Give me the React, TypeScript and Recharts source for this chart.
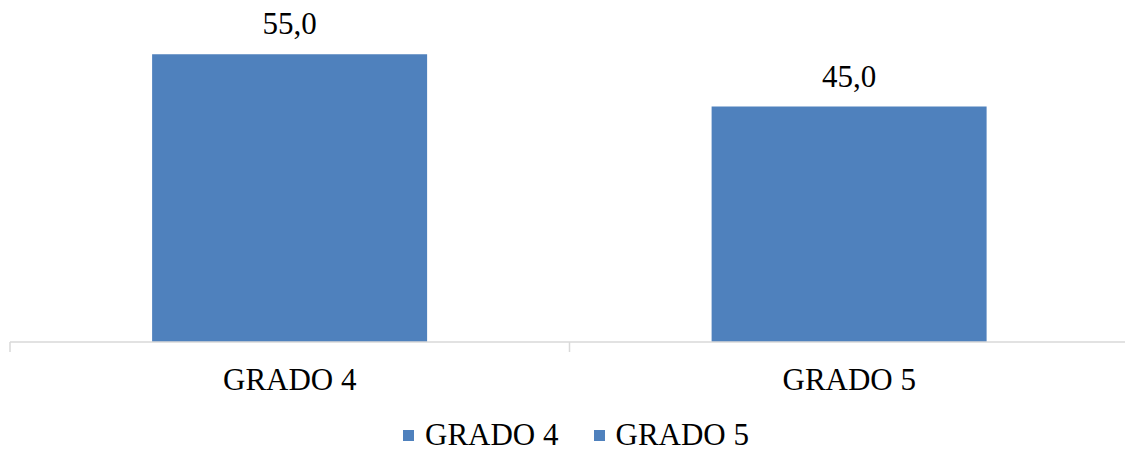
import React from 'react';
import { BarChart, Bar, XAxis, YAxis, Legend, LabelList } from 'recharts';

const categories = ['GRADO 4', 'GRADO 5'];
const values = [55.0, 45.0];
const legendLabels = ['GRADO 4', 'GRADO 5'];

const BAR_COLOR = '#4F81BD';
const AXIS_COLOR = '#D9D9D9';
const FONT = '"Liberation Serif", "Times New Roman", serif';
const TICK_MARGIN = 26;
const TICK_LEN = 10;

if (typeof document !== 'undefined') {
  document.body.style.margin = '0';
}

const data = categories.map((c, i) => ({ name: c, value: values[i] }));

const fmt = (v: any) => Number(v).toFixed(1).replace('.', ',');

const CategoryTick = (props: any) => {
  const { x, y, payload, index, visibleTicksCount } = props;
  const half = payload && payload.offset ? payload.offset : 0;
  const axisY = y - TICK_MARGIN;
  const isLast = index === (visibleTicksCount ?? categories.length) - 1;
  return (
    <g>
      <line x1={x - half} x2={x - half} y1={axisY} y2={axisY + TICK_LEN} stroke={AXIS_COLOR} strokeWidth={1.5} />
      {isLast && (
        <line x1={x + half} x2={x + half} y1={axisY} y2={axisY + TICK_LEN} stroke={AXIS_COLOR} strokeWidth={1.5} />
      )}
      <text x={x} y={y} dy="0.71em" textAnchor="middle" fill="#000" fontSize={31} fontFamily={FONT}>
        {payload.value}
      </text>
    </g>
  );
};

const LegendContent = () => (
  <div
    style={{
      display: 'flex',
      justifyContent: 'center',
      alignItems: 'flex-end',
      height: 40,
      fontFamily: FONT,
      fontSize: 31,
      color: '#000',
      paddingLeft: 13,
      whiteSpace: 'nowrap',
      boxSizing: 'border-box',
    }}
  >
    {legendLabels.map((l, i) => (
      <div key={l} style={{ display: 'flex', alignItems: 'center', marginLeft: i === 0 ? 0 : 35, lineHeight: 'normal' }}>
        <span style={{ display: 'inline-block', width: 11, height: 11, background: BAR_COLOR, marginRight: 11 }} />
        <span>{l}</span>
      </div>
    ))}
  </div>
);

export default function App() {
  return (
    <div style={{ width: 1125, height: 453, overflow: 'hidden', background: '#fff' }}>
      <BarChart
        width={1140}
        height={453}
        data={data}
        margin={{ top: 28, right: 11, left: 10, bottom: 0 }}
        barCategoryGap="25.4%"
      >
        <XAxis
          dataKey="name"
          axisLine={{ stroke: AXIS_COLOR, strokeWidth: 1.5 }}
          tickLine={false}
          tickSize={0}
          tickMargin={TICK_MARGIN}
          height={71}
          interval={0}
          tick={<CategoryTick />}
        />
        <YAxis hide domain={[0, 60]} />
        <Legend verticalAlign="bottom" height={40} content={<LegendContent />} />
        <Bar dataKey="value" fill={BAR_COLOR} isAnimationActive={false}>
          <LabelList
            dataKey="value"
            position="top"
            offset={20}
            formatter={fmt}
            style={{ fill: '#000', fontSize: 31, fontFamily: FONT }}
          />
        </Bar>
      </BarChart>
    </div>
  );
}
